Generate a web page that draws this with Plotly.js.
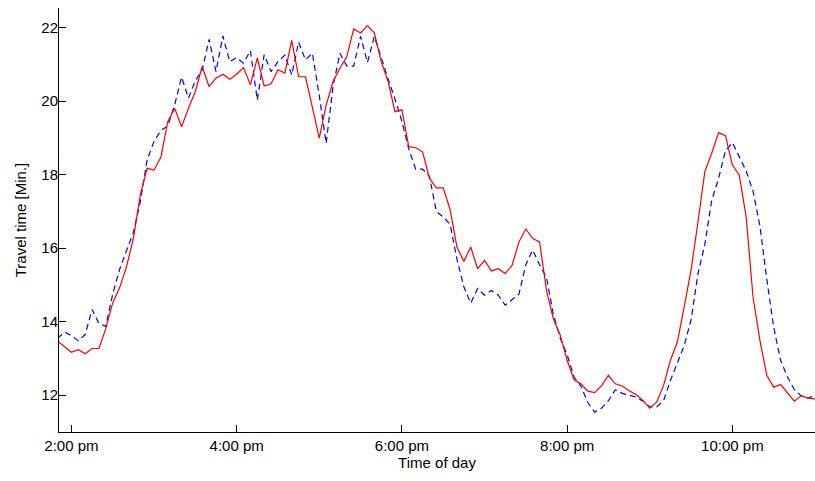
<!DOCTYPE html>
<html>
<head>
<meta charset="utf-8">
<script src="https://cdn.plot.ly/plotly-3.0.1.min.js"></script>
<style>html,body{margin:0;padding:0;background:#fff;}#chart{width:815px;height:481px;}</style>
</head>
<body>
<div id="chart"></div>
<script>
// Time of day (5-minute samples)
const times = [
 '13:50','13:55','14:00','14:05','14:10','14:15','14:20','14:25','14:30','14:35','14:40','14:45',
 '14:50','14:55','15:00','15:05','15:10','15:15','15:20','15:25','15:30','15:35','15:40','15:45',
 '15:50','15:55','16:00','16:05','16:10','16:15','16:20','16:25','16:30','16:35','16:40','16:45',
 '16:50','16:55','17:00','17:05','17:10','17:15','17:20','17:25','17:30','17:35','17:40','17:45',
 '17:50','17:55','18:00','18:05','18:10','18:15','18:20','18:25','18:30','18:35','18:40','18:45',
 '18:50','18:55','19:00','19:05','19:10','19:15','19:20','19:25','19:30','19:35','19:40','19:45',
 '19:50','19:55','20:00','20:05','20:10','20:15','20:20','20:25','20:30','20:35','20:40','20:45',
 '20:50','20:55','21:00','21:05','21:10','21:15','21:20','21:25','21:30','21:35','21:40','21:45',
 '21:50','21:55','22:00','22:05','22:10','22:15','22:20','22:25','22:30','22:35','22:40','22:45',
 '22:50','22:55','23:00'
];

// Red solid series (travel time, minutes)
const redSeries = [
 13.47,13.32,13.17,13.24,13.13,13.27,13.27,13.81,14.51,14.92,15.49,16.26,
 17.44,18.17,18.12,18.48,19.44,19.80,19.30,19.80,20.26,20.94,20.39,20.62,
 20.73,20.59,20.73,20.91,20.44,21.17,20.41,20.47,20.85,20.76,21.65,20.66,
 20.66,19.83,18.99,19.89,20.53,20.89,21.21,21.96,21.85,22.05,21.85,21.07,
 20.53,19.71,19.76,18.76,18.73,18.62,17.90,17.64,17.64,17.05,16.03,15.64,
 16.03,15.44,15.67,15.38,15.44,15.31,15.53,16.17,16.52,16.26,16.17,14.85,
 14.08,13.63,12.95,12.42,12.31,12.11,12.07,12.26,12.54,12.31,12.25,12.12,
 12.02,11.86,11.65,11.81,12.26,12.95,13.44,14.40,15.40,16.71,18.08,18.58,
 19.14,19.06,18.26,17.99,16.85,14.67,13.49,12.54,12.22,12.29,12.08,11.84,
 11.99,11.92,11.90
];

// Blue dashed series (travel time, minutes)
const blueSeries = [
 13.55,13.72,13.62,13.48,13.65,14.33,13.95,13.87,14.75,15.42,15.93,16.42,
 17.25,18.40,18.90,19.20,19.32,19.90,20.65,20.08,20.55,20.85,21.68,20.80,
 21.77,21.07,21.18,21.03,21.37,20.03,21.26,20.80,21.07,21.25,20.71,21.60,
 21.12,21.30,20.15,18.85,20.40,21.30,20.95,20.95,21.76,21.05,21.76,21.15,
 20.60,20.05,19.45,18.70,18.15,18.15,17.95,17.00,16.85,16.65,15.70,14.95,
 14.50,14.90,14.72,14.85,14.72,14.45,14.60,14.75,15.55,15.95,15.55,15.20,
 14.20,13.55,13.10,12.50,12.25,11.80,11.54,11.65,11.85,12.15,12.05,12.00,
 11.95,11.84,11.69,11.68,11.85,12.40,12.90,13.35,14.05,15.30,16.10,17.30,
 17.90,18.65,18.87,18.50,18.10,17.55,16.60,15.15,13.85,12.95,12.50,12.15,
 11.98,11.92,12.00
];

// Axis ticks
const xTickTimes = ['14:00','16:00','18:00','20:00','22:00'];
const xTickLabels = ['2:00 pm','4:00 pm','6:00 pm','8:00 pm','10:00 pm'];
const yTickVals = [12,14,16,18,20,22];

const day = '2000-01-01 ';
const xs = times.map(t => day + t);

const font = {family: 'Liberation Sans, Arial, sans-serif', size: 15, color: '#000'};

const traces = [
  {x: xs, y: blueSeries, type: 'scatter', mode: 'lines',
   line: {color: '#0000ff', width: 1.2, dash: '6px,4px'}, hoverinfo: 'skip'},
  {x: xs, y: redSeries, type: 'scatter', mode: 'lines',
   line: {color: '#ff0000', width: 1.2}, hoverinfo: 'skip'}
];

const layout = {
  width: 815, height: 481,
  margin: {l: 59, r: 0, t: 8, b: 49, pad: 0},
  paper_bgcolor: '#fff', plot_bgcolor: '#fff',
  showlegend: false,
  font: font,
  xaxis: {
    type: 'date',
    range: [day + '13:51', day + '23:00'],
    tickmode: 'array',
    tickvals: xTickTimes.map(t => day + t),
    ticktext: xTickLabels,
    ticks: 'inside', ticklen: 7, tickwidth: 1, tickcolor: '#000',
    showline: true, linecolor: '#000', linewidth: 1,
    showgrid: false, zeroline: false, mirror: false,
    tickfont: font,
    title: {text: 'Time of day', font: font, standoff: 4}
  },
  yaxis: {
    range: [11, 22.53],
    tickmode: 'array',
    tickvals: yTickVals,
    ticks: 'inside', ticklen: 7, tickwidth: 1, tickcolor: '#000',
    showline: true, linecolor: '#000', linewidth: 1,
    showgrid: false, zeroline: false, mirror: false,
    tickfont: font,
    ticklabelstandoff: 0,
    title: {text: 'Travel time [Min.]', font: font, standoff: 6}
  }
};

Plotly.newPlot('chart', traces, layout, {displayModeBar: false, staticPlot: true}).then(function () {
  // nudge y tick labels slightly toward the axis line, as in the reference
  document.querySelectorAll('.ytick text').forEach(function (t) {
    t.setAttribute('transform', (t.getAttribute('transform') || '') + ' translate(3,0)');
  });
  document.querySelectorAll('.ytitle').forEach(function (t) {
    t.setAttribute('transform', (t.getAttribute('transform') || '') + ' translate(0,-2)');
  });
});
</script>
</body>
</html>
